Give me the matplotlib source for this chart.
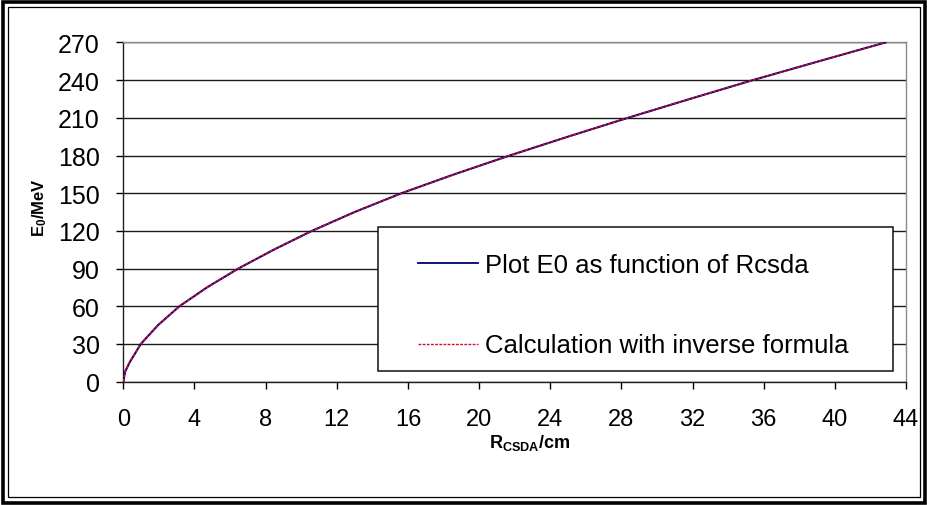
import matplotlib
matplotlib.use('Agg')
import matplotlib.pyplot as plt
from matplotlib.patches import Rectangle
from matplotlib.lines import Line2D
from matplotlib import font_manager

# values
r_csda = [0, 0.1, 0.34, 0.98, 1.95, 3.15, 4.7, 6.46, 8.45, 10.6, 13.0, 15.64,
          18.6, 21.72, 25.0, 28.37, 31.85, 35.39, 39.1, 42.85]
e0_plot = [0, 8, 15, 30, 45, 60, 75, 90, 105, 120, 135, 150,
           165, 180, 195, 210, 225, 240, 255, 270]
e0_calc = [0, 8, 15, 30, 45, 60, 75, 90, 105, 120, 135, 150,
           165, 180, 195, 210, 225, 240, 255, 270]

x_ticks = [0, 4, 8, 12, 16, 20, 24, 28, 32, 36, 40, 44]
y_ticks = [0, 30, 60, 90, 120, 150, 180, 210, 240, 270]
labels = ['Plot E0 as function of Rcsda', 'Calculation with inverse formula']

names = {f.name for f in font_manager.fontManager.ttflist}
narrow = 'Liberation Sans Narrow' if 'Liberation Sans Narrow' in names else 'Liberation Sans'

plt.rcParams['font.family'] = ['Liberation Sans', 'DejaVu Sans']
plt.rcParams['mathtext.fontset'] = 'custom'
plt.rcParams['mathtext.rm'] = narrow + ':bold'
plt.rcParams['mathtext.it'] = narrow + ':bold'
plt.rcParams['mathtext.bf'] = narrow + ':bold'

fig = plt.figure(figsize=(9.28, 5.06), dpi=100)
ax = fig.add_axes([0.1329, 0.2437, 0.8434, 0.6705])

ax.plot(r_csda, e0_plot, color='#000070', lw=1.5, zorder=3)
ax.plot(r_csda, e0_calc, color='#d01030', lw=1.1, linestyle=(0, (2, 1)), zorder=4)

ax.set_xlim(0, 44)
ax.set_ylim(0, 270)
ax.set_xticks(x_ticks)
ax.set_yticks(y_ticks)
ax.set_xticklabels([str(v) for v in x_ticks], family=narrow, fontsize=17)
ax.set_yticklabels([str(v) for v in y_ticks], fontsize=18)
ax.tick_params(axis='y', direction='out', length=5, width=1, pad=12)
ax.tick_params(axis='x', direction='out', length=5, width=1, pad=14)

ax.yaxis.grid(True, color='#1a1a1a', lw=1.0)
ax.set_axisbelow(True)
for s in ['top', 'right']:
    ax.spines[s].set_color('#8a8a8a')
    ax.spines[s].set_linewidth(1.0)
for s in ['left', 'bottom']:
    ax.spines[s].set_color('#202020')
    ax.spines[s].set_linewidth(1.0)

# legend box
ax.add_patch(Rectangle((0.325, 0.032), 0.658, 0.424, transform=ax.transAxes,
                       facecolor='white', edgecolor='#101010', lw=1.1, zorder=5))
styles = [dict(color='#000070', lw=1.3), dict(color='#d01030', lw=1.0, linestyle=(0, (2, 1)))]
line_y = [0.3513, 0.111]
text_y = [0.3224, 0.0866]
for lab, st, ly, ty in zip(labels, styles, line_y, text_y):
    ax.add_line(Line2D([0.3765, 0.4532], [ly, ly], transform=ax.transAxes, zorder=6, **st))
    ax.text(0.462, ty, lab, transform=ax.transAxes, fontsize=18.5, va='baseline', zorder=6)

fig.text(40 / 928, 1 - 208 / 506, r'E$_{0}$/MeV', rotation=90, ha='center', va='center',
         fontsize=12, fontweight='bold', family=narrow)
fig.text(530 / 928, 1 - 443 / 506, r'R$_{\mathrm{CSDA}}$/cm', ha='center', va='center',
         fontsize=13, fontweight='bold', family=narrow)

# double frame round the chart
fig.patches.append(Rectangle((2.5 / 928, 2.5 / 506), 923 / 928, 501 / 506, transform=fig.transFigure,
                             fill=False, edgecolor='black', lw=2.6))
fig.patches.append(Rectangle((8 / 928, 8 / 506), 912 / 928, 490 / 506, transform=fig.transFigure,
                             fill=False, edgecolor='black', lw=0.9))

plt.savefig('out.png', dpi=100)
